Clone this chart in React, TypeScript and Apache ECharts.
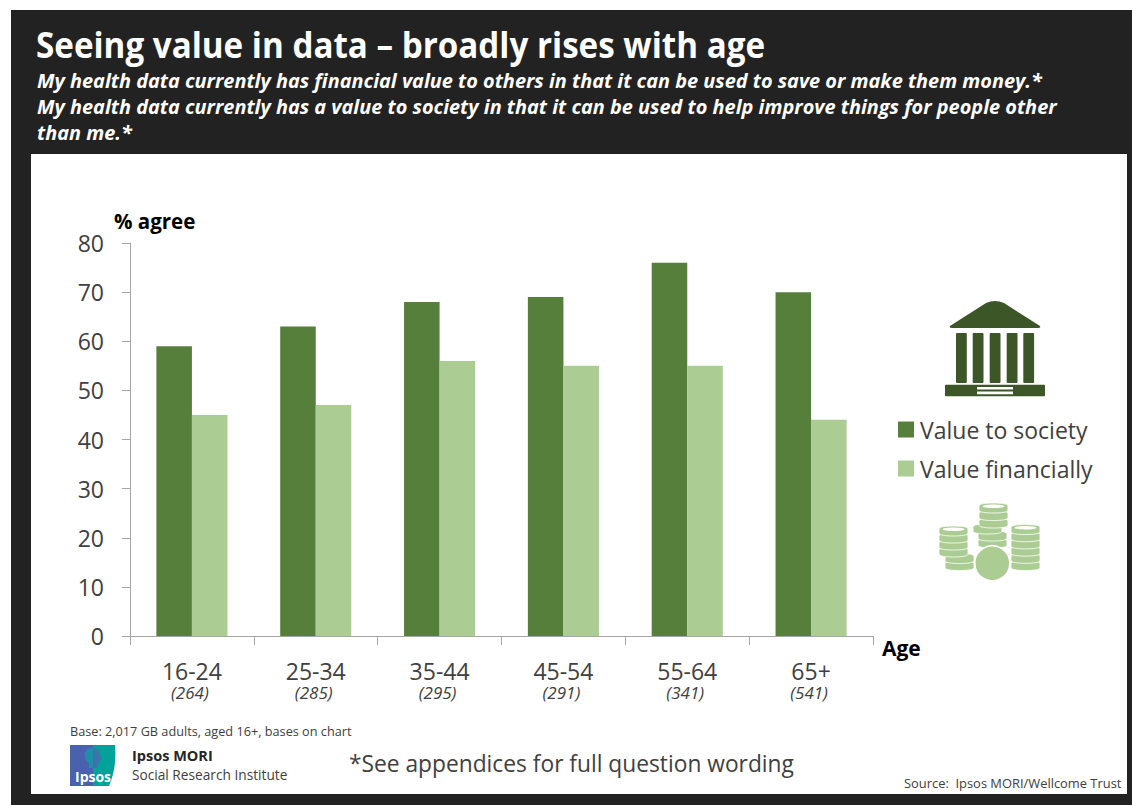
import React, { useEffect, useRef } from "react";
import * as echarts from "echarts";

const ageBands = ["16-24", "25-34", "35-44", "45-54", "55-64", "65+"];
const bases = ["(264)", "(285)", "(295)", "(291)", "(341)", "(541)"];
const valueToSociety = [59, 63, 68, 69, 76, 70];
const valueFinancially = [45, 47, 56, 55, 55, 44];
const yTickMax = 80;
const yTickStep = 10;

const titleText = "Seeing value in data – broadly rises with age";
const subtitleLines = [
  "My health data currently has financial value to others in that it can be used to save or make them money.*",
  "My health data currently has a value to society in that it can be used to help improve things for people other",
  "than me.*",
];

const DARK = "#222222";
const GREEN = "#567f3b";
const LIGHT = "#abcd93";
const ICON = "#3c5628";
const FONT = "'Open Sans', 'Noto Sans', sans-serif";

echarts.graphic.registerShape(
  "pediment",
  echarts.graphic.extendPath("M950 326 L986 303 Q995 299 1004 303 L1040 326 Q1041 328 1038 328 L952 328 Q949 328 950 326 Z", {})
);
echarts.graphic.registerShape(
  "logoRight",
  echarts.graphic.extendPath("M93 745 L115 745 Q117 768 109 786 L93 786 Z", {})
);
echarts.graphic.registerShape(
  "headLeft",
  echarts.graphic.extendPath("M93 748 Q84 748 85 756 Q85 761 89 763 L89 768 L93 768 Z", {})
);
echarts.graphic.registerShape(
  "headRight",
  echarts.graphic.extendPath("M93 748 Q100 749 100 755 L102 759 L100 760 Q100 764 97 764 L97 768 L93 768 Z", {})
);
echarts.graphic.registerShape(
  "coinBand",
  echarts.graphic.extendPath("M0 3 C0 0.6 7 0 14.5 0 C22 0 29 0.6 29 3 L29 7 C29 9.4 22 10 14.5 10 C7 10 0 9.4 0 7 Z", {})
);

const coinStacks = (): any[] => {
  const out: any[] = [];
  const stack = (x: number, bottom: number, n: number, step: number, lid: boolean) => {
    for (let i = 0; i < n; i++) {
      out.push({
        type: "coinBand",
        z: 20,
        x,
        y: bottom - 10 - i * step,
        style: { fill: LIGHT, stroke: "#fff", lineWidth: 0.8 },
      });
    }
    if (lid) {
      const topY = bottom - 10 - (n - 1) * step;
      out.push({ type: "ellipse", z: 20, shape: { cx: x + 14.5, cy: topY + 3.2, rx: 11, ry: 1.8 }, style: { fill: "#fff" } });
    }
  };
  stack(945, 570.5, 2, 7, false);
  stack(939, 557, 4, 7, true);
  stack(1011, 570.5, 6, 7.2, true);
  stack(978, 548, 2, 7, false);
  stack(973, 534, 1, 7, false);
  stack(979, 528, 3, 7.5, true);
  out.push({ type: "circle", z: 22, shape: { cx: 992.3, cy: 563.3, r: 17.5 }, style: { fill: LIGHT, stroke: "#fff", lineWidth: 1.5 } });
  return out;
};

const building = (): any[] => {
  const parts: any[] = [
    { type: "pediment", z: 20, style: { fill: ICON } },
    { type: "rect", z: 20, shape: { x: 945, y: 384.7, width: 100, height: 11.6, r: 1 }, style: { fill: ICON } },
    { type: "rect", z: 21, shape: { x: 977, y: 387, width: 36, height: 2.6 }, style: { fill: "#fff" } },
    { type: "rect", z: 21, shape: { x: 977, y: 391.4, width: 36, height: 2.8 }, style: { fill: "#fff" } },
  ];
  [956, 972.7, 989.7, 1006.7, 1023.3].forEach((x) =>
    parts.push({ type: "rect", z: 20, shape: { x, y: 333, width: 10.8, height: 50, r: 1 }, style: { fill: ICON } })
  );
  return parts;
};

export default function App() {
  const ref = useRef<HTMLDivElement>(null);
  useEffect(() => {
    document.body.style.margin = "0";
    const chart = echarts.init(ref.current!, undefined, { renderer: "svg" });
    const text = (x: number, y: number, t: string, style: any, extra: any = {}) => ({
      type: "text",
      z: 30,
      x,
      y,
      ...extra,
      style: { text: t, fontFamily: FONT, verticalAlign: "middle", ...style },
    });
    chart.setOption({
      animation: false,
      backgroundColor: "#ffffff",
      grid: { left: 130, right: 259, top: 243, bottom: 169 },
      legend: {
        orient: "vertical",
        left: 893,
        top: 413,
        itemWidth: 16,
        itemHeight: 16,
        itemGap: 16,
        selectedMode: false,
        icon: "rect",
        textStyle: { fontFamily: FONT, fontSize: 23, color: "#404040", padding: [0, 0, 0, 1] },
        data: ["Value to society", "Value financially"],
      },
      xAxis: {
        type: "category",
        data: ageBands,
        name: "Age",
        nameLocation: "end",
        nameGap: 9,
        nameTextStyle: { fontFamily: FONT, fontSize: 21, fontWeight: "bold", color: "#000", verticalAlign: "top", padding: [1, 0, 0, 0] },
        axisLine: { lineStyle: { color: "#a6a6a6", width: 1 } },
        axisTick: { show: true, length: 9, alignWithLabel: false, lineStyle: { color: "#a6a6a6" } },
        axisLabel: {
          margin: 23,
          interval: 0,
          formatter: (v: string, i: number) => `{a|${v}}\n{b|${bases[i]}}`,
          rich: {
            a: { fontFamily: FONT, fontSize: 23, color: "#404040", lineHeight: 24 },
            b: { fontFamily: FONT, fontSize: 17, fontStyle: "italic", color: "#404040", lineHeight: 18, padding: [0, 4, 0, 0] },
          },
        },
      },
      yAxis: {
        type: "value",
        min: 0,
        max: yTickMax,
        interval: yTickStep,
        name: "% agree",
        nameLocation: "end",
        nameGap: 12,
        nameTextStyle: { fontFamily: FONT, fontSize: 20.5, fontWeight: "bold", color: "#000", align: "left", padding: [0, 0, 0, -16] },
        splitLine: { show: false },
        axisLine: { show: true, lineStyle: { color: "#a6a6a6", width: 1 } },
        axisTick: { show: true, length: 8, lineStyle: { color: "#a6a6a6" } },
        axisLabel: { fontFamily: FONT, fontSize: 23, color: "#404040", margin: 26, padding: [0, 0, 4, 0] },
      },
      series: [
        { name: "Value to society", type: "bar", data: valueToSociety, barGap: "0%", barCategoryGap: "42.6%", itemStyle: { color: GREEN } },
        { name: "Value financially", type: "bar", data: valueFinancially, itemStyle: { color: LIGHT } },
      ],
      graphic: {
        elements: [
          { type: "rect", z: -20, silent: true, shape: { x: 11, y: 10, width: 1121, height: 795 }, style: { fill: DARK } },
          { type: "rect", z: -19, silent: true, shape: { x: 31, y: 154, width: 1096, height: 640 }, style: { fill: "#fff" } },
          text(36, 44, titleText, { fontSize: 36, fontWeight: "bold", fill: "#fff" }, { scaleX: 0.922 }),
          ...subtitleLines.map((l, i) =>
            text(37, 80.5 + i * 26, l, { fontSize: 19.9, fontWeight: "bold", fontStyle: "italic", fill: "#fff" })
          ),
          text(70, 731, "Base: 2,017 GB adults, aged 16+, bases on chart", { fontSize: 12.7, fill: "#404040" }),
          text(132, 755, "Ipsos MORI", { fontSize: 14.5, fontWeight: "bold", fill: "#262626" }),
          text(132, 774, "Social Research Institute", { fontSize: 14.5, fill: "#404040" }, { scaleX: 0.945 }),
          text(349, 763, "*See appendices for full question wording", { fontSize: 24, fill: "#404040" }, { scaleX: 0.949 }),
          text(904, 782.5, "Source:  Ipsos MORI/Wellcome Trust", { fontSize: 12.9, fill: "#404040" }),
          { type: "rect", z: 20, shape: { x: 70, y: 745, width: 24, height: 41 }, style: { fill: "#4a62ad" } },
          { type: "logoRight", z: 20, style: { fill: "#00a29a" } },
          { type: "headLeft", z: 21, style: { fill: "#1f8fa8" } },
          { type: "headRight", z: 21, style: { fill: "#3f72ac" } },
          text(75, 776, "Ipsos", { fontSize: 14, fontWeight: "bold", fill: "#fff" }),
          ...building(),
          ...coinStacks(),
        ],
      },
    });
    return () => chart.dispose();
  }, []);
  return <div ref={ref} style={{ position: "absolute", left: 0, top: 0, width: 1132, height: 805 }} />;
}
